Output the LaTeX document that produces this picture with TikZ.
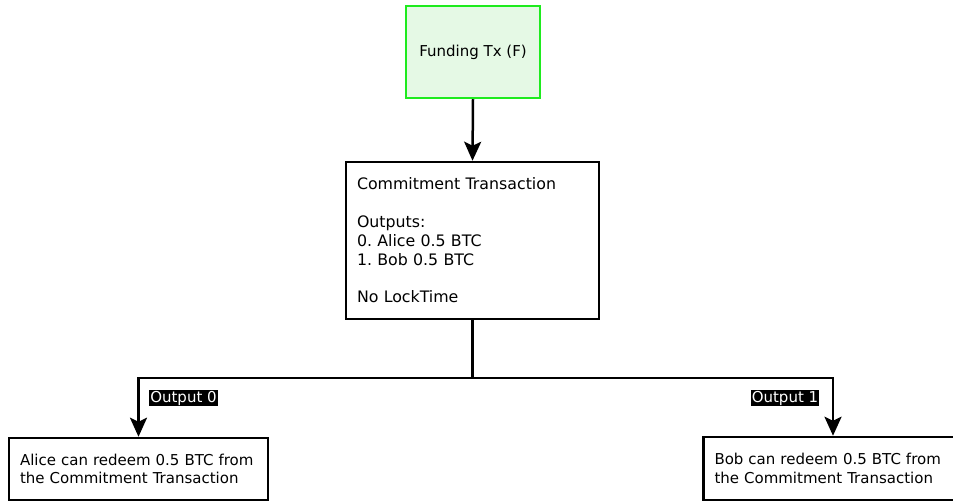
\documentclass[tikz,border=0pt]{standalone}
\usepackage{fontspec}
\setmainfont{DejaVu Sans}
\usetikzlibrary{arrows.meta}
\definecolor{fundline}{RGB}{30,235,30}
\definecolor{fundfill}{RGB}{229,249,229}
\frenchspacing
\begin{document}
\begin{tikzpicture}[x=1pt, y=-1pt,
  every node/.style={font=\fontsize{15}{18.8}\selectfont},
  txbox/.style={draw, line width=2.5pt, align=left, inner xsep=11pt, inner ysep=0pt},
  flow/.style={line width=2.5pt, -{Stealth[length=19pt,width=17pt,inset=4pt]}},
  outlabel/.style={fill=black, text=white, inner sep=1pt}]
\useasboundingbox (0,0) rectangle (953,502);

\node [draw=fundline, fill=fundfill, line width=2.5pt, minimum width=134pt, minimum height=92pt] (fund) at (473,52) {Funding Tx (F)};

\node [txbox, text width=231pt, minimum height=157pt, font=\fontsize{15.8}{18.8}\selectfont] (commit) at (472.5,240.5)
  {Commitment Transaction\\[18.8pt]Outputs:\\0. Alice 0.5 BTC\\1. Bob 0.5 BTC\\[18.8pt]No LockTime};

\node [txbox, text width=237pt, minimum height=62pt] (alice) at (138.5,469)
  {Alice can redeem 0.5 BTC from\\the Commitment Transaction};
\node [txbox, text width=237pt, minimum height=63pt] (bob) at (833,468.5)
  {Bob can redeem 0.5 BTC from\\the Commitment Transaction};

%\draw [flow] (fund) -- (commit);
\draw [flow] (fund.south) -- (commit.north);

\coordinate (split) at (472.5,378);
\draw [line width=2.5pt] (commit.south) -- (split);
\draw [flow] (split) -| (alice.north);
\draw [flow] (split) -| (bob.north);

\node [outlabel] (out0) at (183.5,398) {Output 0};
\node [outlabel] (out1) at (785,398) {Output 1};
\end{tikzpicture}
\end{document}
